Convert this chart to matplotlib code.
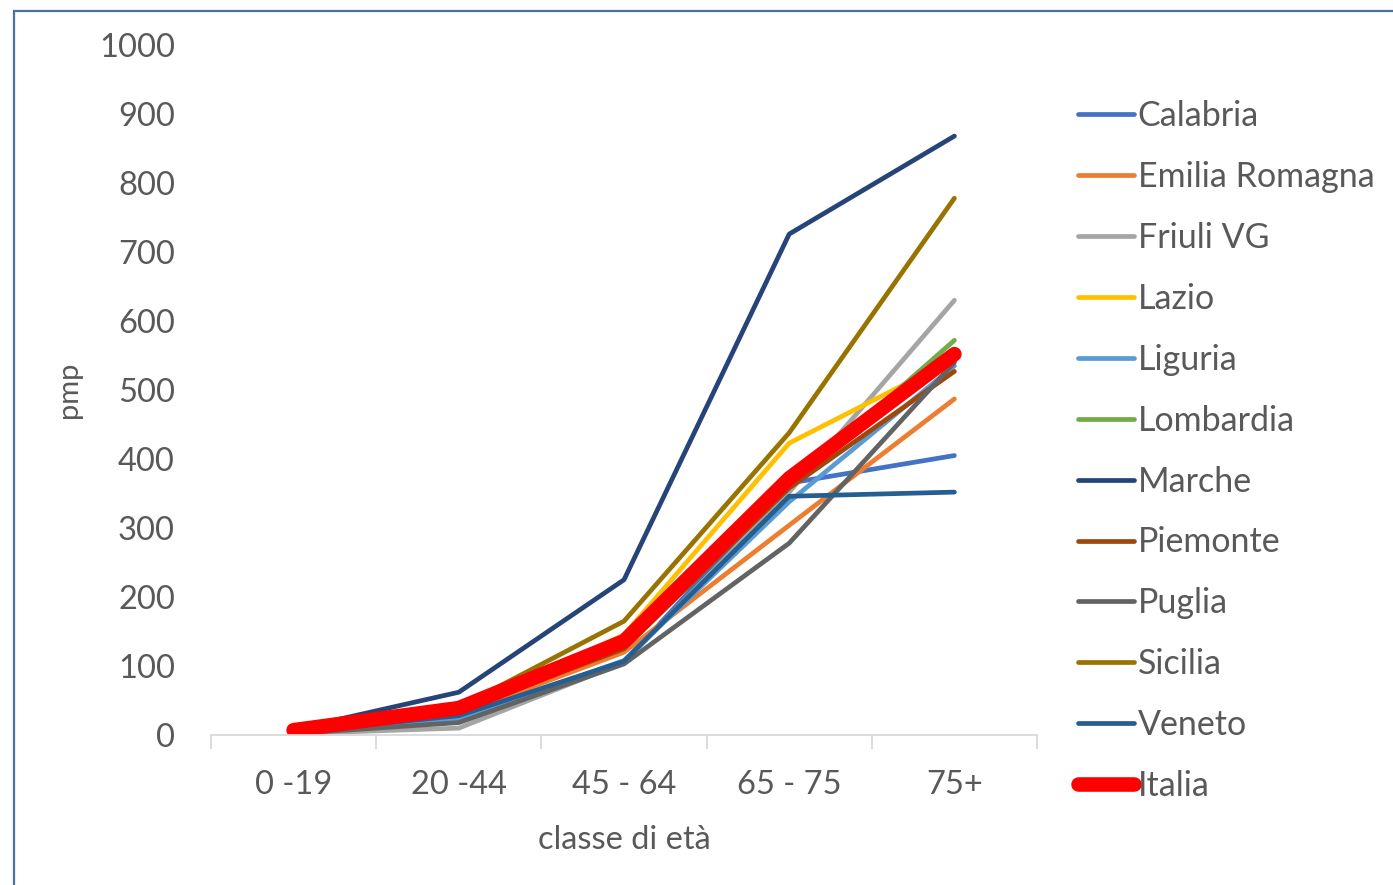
import matplotlib
matplotlib.use("Agg")
import matplotlib.pyplot as plt
from matplotlib.patches import Rectangle

# Age classes and rates per million population (pmp) by region
categories = ["0 -19", "20 -44", "45 - 64", "65 - 75", "75+"]

calabria = [3, 25, 105, 365, 405]
emilia_romagna = [4, 30, 120, 304, 487]
friuli_vg = [2, 10, 105, 352, 630]
lazio = [5, 35, 145, 423, 545]
liguria = [3, 22, 108, 338, 535]
lombardia = [5, 35, 130, 362, 572]
marche = [8, 62, 225, 726, 868]
piemonte = [5, 35, 125, 358, 527]
puglia = [2, 18, 103, 278, 540]
sicilia = [5, 40, 165, 438, 778]
veneto = [4, 28, 107, 346, 352]
italia = [7, 39, 136, 372, 552]

series = [
    ("Calabria", calabria, "#4472C4"),
    ("Emilia Romagna", emilia_romagna, "#ED7D31"),
    ("Friuli VG", friuli_vg, "#A5A5A5"),
    ("Lazio", lazio, "#FFC000"),
    ("Liguria", liguria, "#5B9BD5"),
    ("Lombardia", lombardia, "#70AD47"),
    ("Marche", marche, "#264478"),
    ("Piemonte", piemonte, "#9E480E"),
    ("Puglia", puglia, "#636363"),
    ("Sicilia", sicilia, "#997300"),
    ("Veneto", veneto, "#255E91"),
]

plt.rcParams["font.family"] = ["Lato", "DejaVu Sans"]
TXT = "#595959"
FS = 23.5

W, H = 1393, 885
fig = plt.figure(figsize=(W / 100, H / 100), dpi=100)
ax = fig.add_axes([211 / W, 1 - 735 / H, (1037 - 211) / W, (735 - 45) / H])

x = list(range(len(categories)))
for name, vals, col in series:
    ax.plot(x, vals, color=col, lw=3.4, solid_capstyle="round",
            solid_joinstyle="round", label=name)
ax.plot(x, italia, color="#FF0000", lw=10.5, solid_capstyle="round",
        solid_joinstyle="round", label="Italia")

ax.set_xlim(-0.5, len(categories) - 0.5)
ax.set_ylim(0, 1000)
ax.set_yticks(range(0, 1001, 100))

# category boundaries as tick marks, labels centred on categories
ax.set_xticks([i - 0.5 for i in range(len(categories) + 1)])
ax.set_xticklabels([])
ax.set_xticks(x, minor=True)
ax.set_xticklabels(categories, minor=True)
ax.tick_params(axis="x", which="major", length=10, width=1.3, color="#D9D9D9")
ax.tick_params(axis="x", which="minor", length=0, pad=25, labelsize=FS,
               labelcolor=TXT)
ax.tick_params(axis="y", length=0, pad=26, labelsize=FS, labelcolor=TXT)

for s in ("top", "right", "left"):
    ax.spines[s].set_visible(False)
ax.spines["bottom"].set_color("#D9D9D9")
ax.spines["bottom"].set_linewidth(1.3)

ax.set_xlabel("classe di età", fontsize=FS, color=TXT, labelpad=18)
ax.set_ylabel("pmp", fontsize=21, color=TXT, labelpad=12)

leg = fig.legend(loc="upper left", bbox_to_anchor=(1078 / W, 1 - 100 / H),
                 frameon=False, fontsize=24.5, handlelength=1.65,
                 handletextpad=0.1, labelspacing=0.85, borderpad=0,
                 borderaxespad=0)
for t in leg.get_texts():
    t.set_color(TXT)

fig.add_artist(Rectangle((13.5 / W, -0.1), 1.2, (H - 10.5) / H + 0.1,
                         transform=fig.transFigure, fill=False,
                         edgecolor="#4A6FA5", lw=1.6))

fig.savefig("out.png", dpi=100, facecolor="white")
